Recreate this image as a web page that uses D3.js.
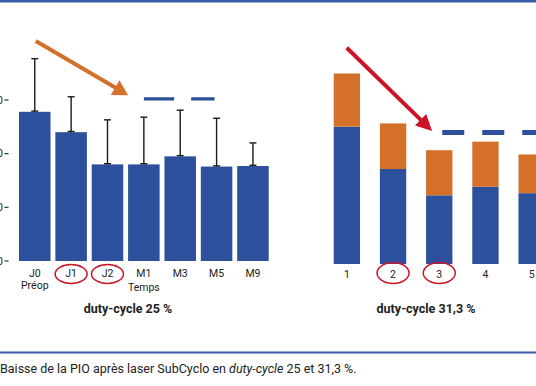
<!DOCTYPE html>
<html>
<head>
<meta charset="utf-8">
<script src="https://cdn.jsdelivr.net/npm/d3@7"></script>
<style>
  body { margin: 0; background: #fff; }
  svg { display: block; font-family: Roboto, "DejaVu Sans", sans-serif; }
</style>
</head>
<body>
<svg id="chart" width="536" height="386"></svg>
<script>
// left panel : duty-cycle 25 %
const leftCats = ["J0", "J1", "J2", "M1", "M3", "M5", "M9"];
const leftMeans = [27.8, 24.0, 18.0, 18.0, 19.5, 17.6, 17.7];
const leftErrTop = [37.7, 30.6, 26.3, 26.8, 28.1, 26.6, 22.0];
const leftTicks = [0, 10, 20, 30];
const leftCircled = ["J1", "J2"];

// right panel : duty-cycle 31,3 %
const rightCats = ["1", "2", "3", "4", "5"];
const rightBlue = [25.6, 17.7, 12.8, 14.4, 13.2];
const rightOrange = [9.9, 8.5, 8.4, 8.4, 7.2];
const rightCircled = ["2", "3"];

const caption = "Baisse de la PIO après laser SubCyclo en ";

const BLUE = "#2c509b";
const ORANGE = "#d4702a";
const RED = "#cc1428";
const LINE = "#3a5ca6";

const svg = d3.select("#chart");

// frame lines
svg.append("rect").attr("x", 0).attr("y", 0).attr("width", 536).attr("height", 2.5).attr("fill", LINE);
svg.append("rect").attr("x", 0).attr("y", 351.5).attr("width", 536).attr("height", 2).attr("fill", LINE);

// ---------- left chart
const xL = d3.scaleBand().domain(leftCats).range([19, 268.7]).paddingInner(0.133).paddingOuter(0);
const yL = d3.scaleLinear().domain([0, 30]).range([261, 100]);

const gL = svg.append("g");

// axis ticks (labels cut by the left edge like the original)
const tk = gL.selectAll(".tick").data(leftTicks).enter().append("g")
  .attr("transform", d => `translate(0,${yL(d)})`);
tk.append("line").attr("x1", 4.5).attr("x2", 8.5).attr("stroke", "#333").attr("stroke-width", 1.2);
tk.append("text").attr("x", 3).attr("dy", "0.35em").attr("text-anchor", "end")
  .attr("font-size", 10.5).attr("fill", "#222").text(d => d);

gL.selectAll(".bar").data(leftCats).enter().append("rect")
  .attr("x", d => xL(d))
  .attr("y", (d, i) => yL(leftMeans[i]))
  .attr("width", xL.bandwidth())
  .attr("height", (d, i) => yL(0) - yL(leftMeans[i]))
  .attr("fill", BLUE);

// error bars
const eb = gL.selectAll(".err").data(leftCats).enter().append("g")
  .attr("stroke", "#1a1a1a").attr("stroke-width", 1.4);
eb.append("line")
  .attr("x1", d => xL(d) + xL.bandwidth() / 2).attr("x2", d => xL(d) + xL.bandwidth() / 2)
  .attr("y1", (d, i) => yL(leftMeans[i])).attr("y2", (d, i) => yL(leftErrTop[i]));
eb.append("line")
  .attr("x1", d => xL(d) + xL.bandwidth() / 2 - 3.5).attr("x2", d => xL(d) + xL.bandwidth() / 2 + 3.5)
  .attr("y1", (d, i) => yL(leftErrTop[i])).attr("y2", (d, i) => yL(leftErrTop[i]));
eb.append("line")
  .attr("x1", d => xL(d) + xL.bandwidth() / 2 - 3.5).attr("x2", d => xL(d) + xL.bandwidth() / 2 + 3.5)
  .attr("y1", (d, i) => yL(leftMeans[i]) - 0.7).attr("y2", (d, i) => yL(leftMeans[i]) - 0.7);

// significance dashes
gL.append("line")
  .attr("x1", xL("M1") + xL.bandwidth() / 2).attr("x2", xL("M5") + xL.bandwidth() / 2 - 2)
  .attr("y1", yL(30.2)).attr("y2", yL(30.2))
  .attr("stroke", BLUE).attr("stroke-width", 3.3).attr("stroke-dasharray", "30.3,17");

// x labels
gL.selectAll(".xl").data(leftCats).enter().append("text")
  .attr("x", d => xL(d) + xL.bandwidth() / 2).attr("y", 277)
  .attr("text-anchor", "middle").attr("font-size", 10.5).attr("fill", "#222").text(d => d);
gL.append("text").attr("x", xL("J0") + xL.bandwidth() / 2).attr("y", 289)
  .attr("text-anchor", "middle").attr("font-size", 10.5).attr("fill", "#222").text("Préop");
gL.append("text").attr("x", xL("M1") + xL.bandwidth() / 2).attr("y", 291)
  .attr("text-anchor", "middle").attr("font-size", 10.5).attr("fill", "#222").text("Temps");
gL.selectAll(".circ").data(leftCircled).enter().append("ellipse")
  .attr("cx", d => xL(d) + xL.bandwidth() / 2).attr("cy", 274)
  .attr("rx", 16).attr("ry", 9.5)
  .attr("fill", "none").attr("stroke", RED).attr("stroke-width", 1.5);
gL.append("text").attr("x", 128).attr("y", 313).attr("text-anchor", "middle")
  .attr("font-size", 12.5).attr("font-weight", "bold").attr("fill", "#222").text("duty-cycle 25 %");

// ---------- right chart
const xR = d3.scaleBand().domain(rightCats).range([333.7, 544.8]).paddingInner(0.43).paddingOuter(0);
const yR = d3.scaleLinear().domain([0, 30]).range([264, 103]);

const gR = svg.append("g");
const stack = d3.stack().keys(["blue", "orange"])(
  rightCats.map((c, i) => ({ cat: c, blue: rightBlue[i], orange: rightOrange[i] })));
const colors = { blue: BLUE, orange: ORANGE };

gR.selectAll(".layer").data(stack).enter().append("g")
  .attr("fill", d => colors[d.key])
  .selectAll("rect").data(d => d).enter().append("rect")
  .attr("x", d => xR(d.data.cat))
  .attr("y", d => yR(d[1]))
  .attr("width", xR.bandwidth())
  .attr("height", d => yR(d[0]) - yR(d[1]));

gR.append("line")
  .attr("x1", xR("3") + xR.bandwidth() / 2 + 3).attr("x2", 540)
  .attr("y1", yR(24.5)).attr("y2", yR(24.5))
  .attr("stroke", BLUE).attr("stroke-width", 5).attr("stroke-dasharray", "22,18");

gR.selectAll(".xl").data(rightCats).enter().append("text")
  .attr("x", d => xR(d) + xR.bandwidth() / 2).attr("y", 278)
  .attr("text-anchor", "middle").attr("font-size", 10.5).attr("fill", "#222").text(d => d);
gR.selectAll(".circ").data(rightCircled).enter().append("ellipse")
  .attr("cx", d => xR(d) + xR.bandwidth() / 2).attr("cy", 273)
  .attr("rx", 16).attr("ry", 10.5)
  .attr("fill", "none").attr("stroke", RED).attr("stroke-width", 1.5);
gR.append("text").attr("x", 426).attr("y", 313).attr("text-anchor", "middle")
  .attr("font-size", 12.5).attr("font-weight", "bold").attr("fill", "#222").text("duty-cycle 31,3 %");

// ---------- arrows
function arrow(g, x1, y1, x2, y2, color, w, headLen, headW) {
  const a = Math.atan2(y2 - y1, x2 - x1);
  const bx = x2 - headLen * Math.cos(a), by = y2 - headLen * Math.sin(a);
  g.append("line").attr("x1", x1).attr("y1", y1).attr("x2", bx + 2 * Math.cos(a)).attr("y2", by + 2 * Math.sin(a))
    .attr("stroke", color).attr("stroke-width", w);
  const px = -Math.sin(a) * headW / 2, py = Math.cos(a) * headW / 2;
  g.append("path").attr("d", `M${x2},${y2}L${bx + px},${by + py}L${bx - px},${by - py}Z`).attr("fill", color);
}
arrow(gL, xL("J0") + xL.bandwidth() / 2 + 1, yL(41), xL("M1"), yL(30.9), ORANGE, 4, 15, 17);
arrow(gR, 346.7, yR(40.3), xR("3") + 6, yR(24.8), RED, 4, 16, 16);

// ---------- caption
const cap = svg.append("text").attr("x", 0).attr("y", 373).attr("font-size", 12.5).attr("fill", "#222");
cap.append("tspan").text(caption);
cap.append("tspan").attr("font-style", "italic").text("duty-cycle");
cap.append("tspan").text(" 25 et 31,3 %.");
</script>
</body>
</html>
